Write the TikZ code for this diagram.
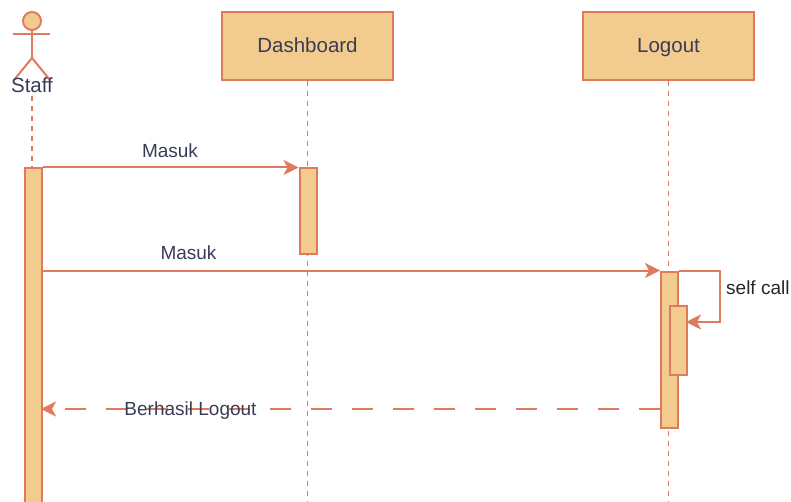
\documentclass[tikz,border=0pt]{standalone}
\usepackage{fontspec}
\setmainfont{Liberation Sans}
\usetikzlibrary{arrows.meta}
\definecolor{fillc}{HTML}{F2CC8F}
\definecolor{strokec}{HTML}{E07A5F}
\definecolor{textc}{HTML}{393C56}
\begin{document}
\begin{tikzpicture}[x=1pt,y=-1pt,
  box/.style={draw=strokec,fill=fillc,line width=2pt,minimum width=171pt,minimum height=68pt,inner sep=0pt,font=\fontsize{20.5}{24}\selectfont,text=textc,text height=14pt,text depth=1pt},
  actbar/.style={draw=strokec,fill=fillc,line width=2pt,inner sep=0pt,anchor=north west},
  lifeline/.style={draw=strokec,line width=1.2pt,dash pattern=on 5pt off 5pt},
  msg/.style={draw=strokec,line width=2pt,-{Stealth[length=15pt,width=15pt,inset=4pt]}},
  ret/.style={draw=strokec,line width=2pt,dash pattern=on 21pt off 20pt,-{Stealth[length=15pt,width=15pt,inset=4pt]}},
  lbl/.style={font=\fontsize{19}{22}\selectfont,text=textc,inner sep=0pt,text height=13.5pt,text depth=0pt},
  figline/.style={draw=strokec,line width=2pt}
]
\useasboundingbox (0,0) rectangle (791,502);
% boxes
\node[box] (dash) at (307.5,46) {Dashboard};
\node[box] (logout) at (668.5,46) {Logout};
% actor
\node[circle,draw=strokec,fill=fillc,line width=2pt,minimum size=18pt,inner sep=0pt] (head) at (32,21) {};
\coordinate (hip) at (32,58);
\coordinate (armL) at (13,34);
\coordinate (armR) at (50,34);
\coordinate (legL) at (14,80);
\coordinate (legR) at (50,80);
\draw[figline] (head.south) -- (hip);
\draw[figline] (armL) -- (armR);
\draw[figline] (legL) -- (hip) -- (legR);
\node[font=\fontsize{20.5}{24}\selectfont,text=textc,inner sep=0pt,text height=14pt,text depth=0pt] (staff) at (32,86) {Staff};
% lifelines
\coordinate (sl1) at (32,96);
\coordinate (sl2) at (32,168);
\draw[lifeline] (sl1) -- (sl2);
\coordinate (dl2) at (307.5,502);
\draw[lifeline] (dash.south) -- (dl2);
\coordinate (ll2) at (668.5,502);
\draw[lifeline] (logout.south) -- (ll2);
% activation bars
\node[actbar,minimum width=17pt,minimum height=340pt] (sbar) at (23.5,167.5) {};
\node[actbar,minimum width=17.5pt,minimum height=86pt] (dbar) at (298.5,167.5) {};
\node[actbar,minimum width=17pt,minimum height=156pt] (lbar) at (660,270.5) {};
\node[actbar,minimum width=17pt,minimum height=69pt] (nbar) at (669,305) {};
% messages
\draw[msg] (sbar.north east) -- (dbar.north west);
\node[lbl] (m1) at (170,151) {Masuk};
\coordinate (m2s) at (41,270.5);
\draw[msg] (m2s) -- (lbar.north west);
\node[lbl] (m2) at (188.5,253) {Masuk};
% self call
\coordinate (sc1) at (720,270.5);
\coordinate (sc2) at (720,322);
\coordinate (sc3) at (686,322);
\draw[msg] (lbar.north east) -- (sc1) -- (sc2) -- (sc3);
\node[font=\fontsize{19}{22}\selectfont,text=black!85,inner sep=0pt,anchor=west,text height=13.5pt,text depth=0pt] (scl) at (726,288) {self call};
% return
\coordinate (r1) at (660,409);
\coordinate (r2) at (41,409);
\draw[ret] (r1) -- (r2);
\node[lbl] (rl) at (190.5,408.5) {Berhasil Logout};
\end{tikzpicture}
\end{document}
